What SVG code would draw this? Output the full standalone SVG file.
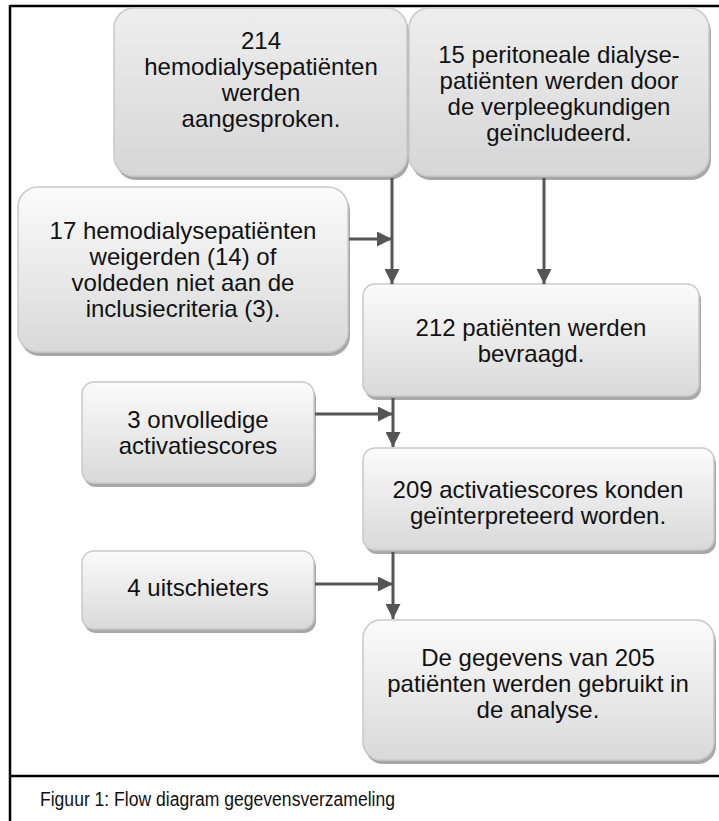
<svg xmlns="http://www.w3.org/2000/svg" width="719" height="821" viewBox="0 0 719 821">
<defs>
<linearGradient id="g" x1="0" y1="0" x2="0" y2="1">
<stop offset="0" stop-color="#fbfbfb"/>
<stop offset="1" stop-color="#d9d9d9"/>
</linearGradient>
<linearGradient id="gd" x1="0" y1="0" x2="0" y2="1">
<stop offset="0" stop-color="#eeeeee"/>
<stop offset="1" stop-color="#d6d6d6"/>
</linearGradient>
<marker id="ah" viewBox="0 0 10 10" refX="10" refY="5" markerWidth="5.3" markerHeight="5" markerUnits="strokeWidth" orient="auto">
<path d="M0,0 L10,5 L0,10 Z" fill="#555555"/>
</marker>
</defs>
<style>
.sh{fill:#a8a8a8;}
.bx{fill:url(#g);stroke:#c9c9c9;stroke-width:1.5;}
.bxd{fill:url(#gd);stroke:#c9c9c9;stroke-width:1.5;}
.t{font-family:"Liberation Sans",Arial,sans-serif;font-size:24px;fill:#111111;text-anchor:middle;}
.c{stroke:#555555;stroke-width:3;fill:none;marker-end:url(#ah);}
.fr{stroke:#000000;stroke-width:2.5;fill:none;}
.cap{font-family:"Liberation Sans",Arial,sans-serif;font-size:19.5px;fill:#111111;}
</style>
<rect width="719" height="821" fill="#ffffff"/>
<g id="frame">
<line class="fr" x1="10" y1="6" x2="719" y2="6"/>
<line class="fr" x1="10" y1="5" x2="10" y2="821"/>
<line class="fr" x1="10" y1="776" x2="719" y2="776"/>
</g>
<g id="n1">
<rect class="sh" x="116" y="12" width="293" height="168" rx="20"/>
<rect class="bxd" x="114" y="8" width="293" height="168" rx="20"/>
<text class="t" x="261" y="49">214</text>
<text class="t" x="261" y="75">hemodialysepatiënten</text>
<text class="t" x="261" y="101">werden</text>
<text class="t" x="261" y="127">aangesproken.</text>
</g>
<g id="n2">
<rect class="sh" x="411" y="12" width="300" height="168" rx="20"/>
<rect class="bxd" x="409" y="8" width="300" height="168" rx="20"/>
<text class="t" x="559" y="63">15 peritoneale dialyse-</text>
<text class="t" x="559" y="89">patiënten werden door</text>
<text class="t" x="559" y="115">de verpleegkundigen</text>
<text class="t" x="559" y="141">geïncludeerd.</text>
</g>
<g id="n3">
<rect class="sh" x="20" y="191" width="330" height="165" rx="20"/>
<rect class="bx" x="18" y="187" width="330" height="165" rx="20"/>
<text class="t" x="183" y="239">17 hemodialysepatiënten</text>
<text class="t" x="183" y="265">weigerden (14) of</text>
<text class="t" x="183" y="291">voldeden niet aan de</text>
<text class="t" x="183" y="317">inclusiecriteria (3).</text>
</g>
<g id="n4">
<rect class="sh" x="365" y="288" width="336" height="112" rx="12"/>
<rect class="bx" x="363" y="284" width="336" height="112" rx="12"/>
<text class="t" x="531" y="336">212 patiënten werden</text>
<text class="t" x="531" y="362">bevraagd.</text>
</g>
<g id="n5">
<rect class="sh" x="84" y="386" width="232" height="101" rx="12"/>
<rect class="bx" x="82" y="382" width="232" height="101" rx="12"/>
<text class="t" x="198" y="428">3 onvolledige</text>
<text class="t" x="198" y="454">activatiescores</text>
</g>
<g id="n6">
<rect class="sh" x="365" y="452" width="351" height="102" rx="12"/>
<rect class="bx" x="363" y="448" width="351" height="102" rx="12"/>
<text class="t" x="538" y="498">209 activatiescores konden</text>
<text class="t" x="538" y="524">geïnterpreteerd worden.</text>
</g>
<g id="n7">
<rect class="sh" x="84" y="555" width="232" height="78" rx="12"/>
<rect class="bx" x="82" y="551" width="232" height="78" rx="12"/>
<text class="t" x="198" y="596">4 uitschieters</text>
</g>
<g id="n8">
<rect class="sh" x="365" y="624" width="351" height="140" rx="18"/>
<rect class="bx" x="363" y="620" width="351" height="140" rx="18"/>
<text class="t" x="538" y="666">De gegevens van 205</text>
<text class="t" x="538" y="692">patiënten werden gebruikt in</text>
<text class="t" x="538" y="718">de analyse.</text>
</g>
<g id="connectors">
<path class="c" d="M392,178 L392,284"/>
<path class="c" d="M349,239 L392,239"/>
<path class="c" d="M544,178 L544,284"/>
<path class="c" d="M393,398 L393,447"/>
<path class="c" d="M315,414 L393,414"/>
<path class="c" d="M393,552 L393,619"/>
<path class="c" d="M315,584 L393,584"/>
</g>
<text class="cap" x="40" y="806" textLength="355" lengthAdjust="spacingAndGlyphs">Figuur 1: Flow diagram gegevensverzameling</text>
</svg>
